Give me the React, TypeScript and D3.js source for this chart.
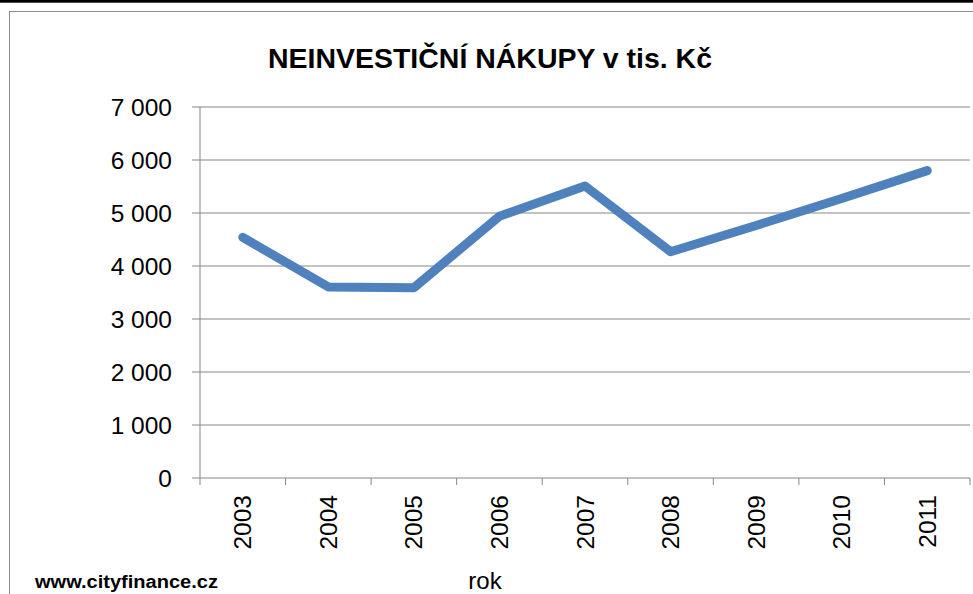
import React from "react";
import * as d3 from "d3";

const years = ["2003", "2004", "2005", "2006", "2007", "2008", "2009", "2010", "2011"];
const values = [4540, 3605, 3590, 4940, 5510, 4270, 4765, 5275, 5800];
const yTicks = [0, 1000, 2000, 3000, 4000, 5000, 6000, 7000];
const title = "NEINVESTIČNÍ NÁKUPY v tis. Kč";
const xTitle = "rok";
const source = "www.cityfinance.cz";

const W = 973;
const H = 594;
const plot = { left: 200, right: 970, top: 107, bottom: 478 };

export default function App() {
  const x = d3.scaleBand<string>().domain(years).range([plot.left, plot.right]).padding(0);
  const y = d3.scaleLinear().domain([0, 7000]).range([plot.bottom, plot.top]);
  const fmt = (v: number) => d3.format(",")(v).replace(/,/g, " ");
  const line = d3
    .line<number>()
    .x((_, i) => (x(years[i]) as number) + x.bandwidth() / 2)
    .y((d) => y(d));
  const gridColor = "#868686";
  const font = "'Liberation Sans', Arial, sans-serif";
  const boundaries = years.map((yr) => x(yr) as number).concat([plot.right]);

  return (
    <svg
      width={W}
      height={H}
      style={{ position: "absolute", left: 0, top: 0, background: "#fff" }}
      fontFamily={font}
    >
      <rect x={0} y={0} width={W} height={H} fill="#fff" />
      <rect x={0} y={0} width={W} height={2.7} fill="#000" />
      <rect x={9.5} y={11.5} width={W + 10} height={H + 10} fill="none" stroke="#8c8c8c" strokeWidth={1} />
      <text
        x={490}
        y={68}
        textAnchor="middle"
        fontWeight="bold"
        fontSize={28}
        textLength={444}
        lengthAdjust="spacingAndGlyphs"
        fill="#000"
      >
        {title}
      </text>
      {yTicks.map((t) => (
        <g key={t}>
          <line x1={plot.left - 8} x2={plot.right} y1={y(t)} y2={y(t)} stroke={gridColor} strokeWidth={1} />
          <text x={172} y={y(t)} dy="0.35em" textAnchor="end" fontSize={24.5} fill="#000">
            {fmt(t)}
          </text>
        </g>
      ))}
      <line x1={plot.left} x2={plot.left} y1={plot.top} y2={plot.bottom} stroke={gridColor} strokeWidth={1} />
      {boundaries.map((bx, i) => (
        <line key={i} x1={bx} x2={bx} y1={plot.bottom} y2={plot.bottom + 7} stroke={gridColor} strokeWidth={1} />
      ))}
      {years.map((yr) => {
        const cx = (x(yr) as number) + x.bandwidth() / 2;
        return (
          <text
            key={yr}
            transform={`translate(${cx},495) rotate(-90)`}
            textAnchor="end"
            dy="0.35em"
            fontSize={24.5}
            fill="#000"
          >
            {yr}
          </text>
        );
      })}
      <path
        d={line(values) || ""}
        fill="none"
        stroke="#4F81BD"
        strokeWidth={9}
        strokeLinecap="round"
        strokeLinejoin="round"
      />
      <text x={485} y={589} textAnchor="middle" fontSize={24} fill="#000">
        {xTitle}
      </text>
      <text x={35} y={588} fontWeight="bold" fontSize={18} textLength={183} lengthAdjust="spacingAndGlyphs" fill="#000">
        {source}
      </text>
    </svg>
  );
}
